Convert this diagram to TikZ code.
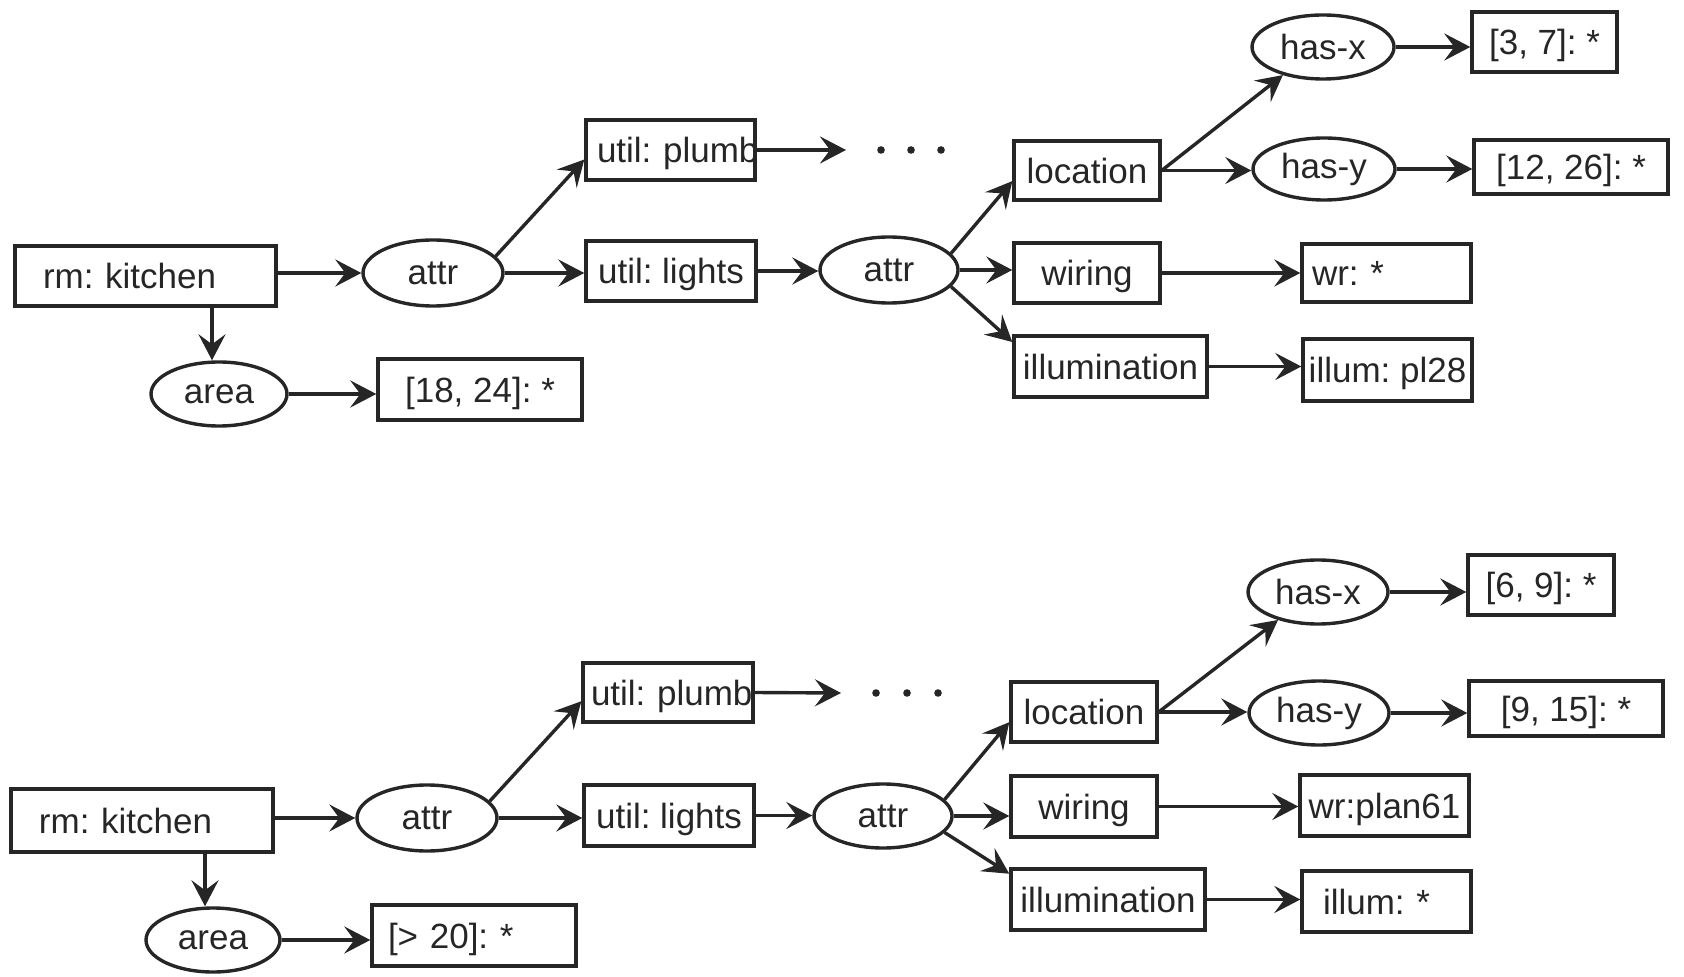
\documentclass[tikz,border=0pt]{standalone}
\usepackage{fontspec}
\setmainfont{Liberation Sans}
\frenchspacing
\usetikzlibrary{shapes.geometric,arrows.meta,calc}
\definecolor{ink}{HTML}{262626}
\begin{document}
\begin{tikzpicture}[x=0.5pt,y=-0.5pt,
  every node/.style={font=\fontsize{17.5}{20}\selectfont, text=ink},
  box/.style={draw=ink, line width=1.7pt, rectangle, inner sep=0pt,
    text height=12.8pt, text depth=0pt},
  lbox/.style 2 args={box, align=left, text width=#1, inner xsep=#2},
  oval/.style={draw=ink, line width=1.7pt, ellipse, inner sep=0pt},
  link/.style={draw=ink, line width=1.7pt,
    -{Stealth[length=13pt,width=13.5pt,inset=5pt]}},
  dot/.style={fill=ink}
]
\useasboundingbox (0,0) rectangle (1684,977);

% ---------------- first query graph ----------------
\node[lbox={102.5pt}{14pt}, minimum height=30pt] (rm1) at (145.5,276) {rm: kitchen};
\node[oval, minimum width=70pt, minimum height=33pt] (attr1) at (433,273) {attr};
\node[oval, minimum width=68pt, minimum height=32pt] (area1) at (219,394) {area};
\node[box, minimum width=102pt, minimum height=30.5pt] (v1) at (480,389.5) {[18, 24]: *};
\node[lbox={73.5pt}{5.5pt}, minimum height=30pt] (plumb1) at (670.5,150) {\mbox{util: plumb}};
\node[box, minimum width=85pt, minimum height=30pt] (lights1) at (671,271) {util: lights};
\coordinate (more1) at (846,150);
\node[oval, minimum width=69pt, minimum height=33pt] (attr2) at (889,270) {attr};
\node[box, minimum width=73pt, minimum height=29.5pt] (loc1) at (1087,170.5) {location};
\node[box, minimum width=73pt, minimum height=30pt] (wir1) at (1087,273) {wiring};
\node[box, minimum width=96.5pt, minimum height=30.5pt] (ill1) at (1110.5,366.5) {illumination};
\node[oval, minimum width=71pt, minimum height=32pt] (hx1) at (1323,47) {has-x};
\node[oval, minimum width=71pt, minimum height=31pt] (hy1) at (1324,169) {has-y};
\node[box, minimum width=72.5pt, minimum height=30pt] (vx1) at (1544.5,42) {[3, 7]: *};
\node[box, minimum width=97pt, minimum height=27pt] (vy1) at (1571,167) {[12, 26]: *};
\node[lbox={74.5pt}{5pt}, minimum height=29pt] (wr1) at (1386.5,273) {wr: *};
\node[box, minimum width=84.5pt, minimum height=31pt] (il1) at (1387.5,370) {illum: pl28};

\foreach \x in {881,911,941} \fill[dot] (\x,150) circle (1.9pt);

\coordinate (a1top) at ($(area1.north)+(-7,0)$);
\draw[link] (rm1.east |- attr1.west) -- (attr1.west);
\draw[link] (a1top |- rm1.south) -- (a1top);
\draw[link] (area1.east) -- (area1.east -| v1.west);
\draw[link] (attr1.15) -- ($(plumb1.south west)!0.35!(plumb1.north west)$);
\draw[link] (attr1.east) -- (attr1.east -| lights1.west);
\draw[link] (plumb1.east) -- (more1);
\draw[link] (lights1.east) -- (lights1.east -| attr2.west);
\draw[link] (attr2.15) -- ($(loc1.south west)!0.33!(loc1.north west)$);
\draw[link] (attr2.east) -- (attr2.east -| wir1.west);
\draw[link] (attr2.-15) -- ($(ill1.south west)!0.88!(ill1.north west)$);
\draw[link] (loc1.east) -- (hx1.215);
\draw[link] (loc1.east) -- (loc1.east -| hy1.west);
\draw[link] (hx1.east) -- (hx1.east -| vx1.west);
\draw[link] (hy1.east) -- (hy1.east -| vy1.west);
\draw[link] (wir1.east) -- (wir1.east -| wr1.west);
\draw[link] (ill1.east) -- (ill1.east -| il1.west);

% ---------------- second query graph ----------------
\node[lbox={103pt}{14pt}, minimum height=31.5pt] (rm2) at (142,820.5) {rm: kitchen};
\node[oval, minimum width=70pt, minimum height=33pt] (attr3) at (427,818) {attr};
\node[oval, minimum width=67pt, minimum height=32pt] (area2) at (213,940) {area};
\node[lbox={86pt}{8pt}, minimum height=30.5pt] (v2) at (474,935.5) {[> 20]: *};
\node[lbox={77pt}{4pt}, minimum height=29.5pt] (plumb2) at (668,692.5) {\mbox{util: plumb}};
\node[box, minimum width=85pt, minimum height=30.5pt] (lights2) at (669,815.5) {util: lights};
\coordinate (more2) at (841,693);
\node[oval, minimum width=69pt, minimum height=32pt] (attr4) at (883,816) {attr};
\node[box, minimum width=73pt, minimum height=30pt] (loc2) at (1084,712) {location};
\node[box, minimum width=73pt, minimum height=30.5pt] (wir2) at (1084,806.5) {wiring};
\node[box, minimum width=97pt, minimum height=30.5pt] (ill2) at (1108,899.5) {illumination};
\node[oval, minimum width=70pt, minimum height=32pt] (hx2) at (1318,592) {has-x};
\node[oval, minimum width=70pt, minimum height=32pt] (hy2) at (1319,713) {has-y};
\node[box, minimum width=73pt, minimum height=30pt] (vx2) at (1541,585) {[6, 9]: *};
\node[box, minimum width=97pt, minimum height=27.5pt] (vy2) at (1566,708.5) {[9, 15]: *};
\node[box, minimum width=84.5pt, minimum height=30.5pt] (wr2) at (1384.5,805.5) {wr:plan61};
\node[lbox={63.5pt}{10.5pt}, minimum height=30.5pt] (il2) at (1386.5,901.5) {illum: *};

\foreach \x in {876,907,938} \fill[dot] (\x,693) circle (1.9pt);

\coordinate (a2top) at ($(area2.north)+(-8,0)$);
\draw[link] (rm2.east |- attr3.west) -- (attr3.west);
\draw[link] (a2top |- rm2.south) -- (a2top);
\draw[link] (area2.east) -- (area2.east -| v2.west);
\draw[link] (attr3.15) -- ($(plumb2.south west)!0.36!(plumb2.north west)$);
\draw[link] (attr3.east) -- (attr3.east -| lights2.west);
\draw[link] (plumb2.east) -- (more2);
\draw[link] (lights2.east) -- (lights2.east -| attr4.west);
\draw[link] (attr4.15) -- ($(loc2.south west)!0.34!(loc2.north west)$);
\draw[link] (attr4.east) -- (attr4.east -| wir2.west);
\draw[link] (attr4.-15) -- ($(ill2.south west)!0.9!(ill2.north west)$);
\draw[link] (loc2.east) -- (hx2.215);
\draw[link] (loc2.east) -- (loc2.east -| hy2.west);
\draw[link] (hx2.east) -- (hx2.east -| vx2.west);
\draw[link] (hy2.east) -- (hy2.east -| vy2.west);
\draw[link] (wir2.east) -- (wir2.east -| wr2.west);
\draw[link] (ill2.east) -- (ill2.east -| il2.west);
\end{tikzpicture}
\end{document}
